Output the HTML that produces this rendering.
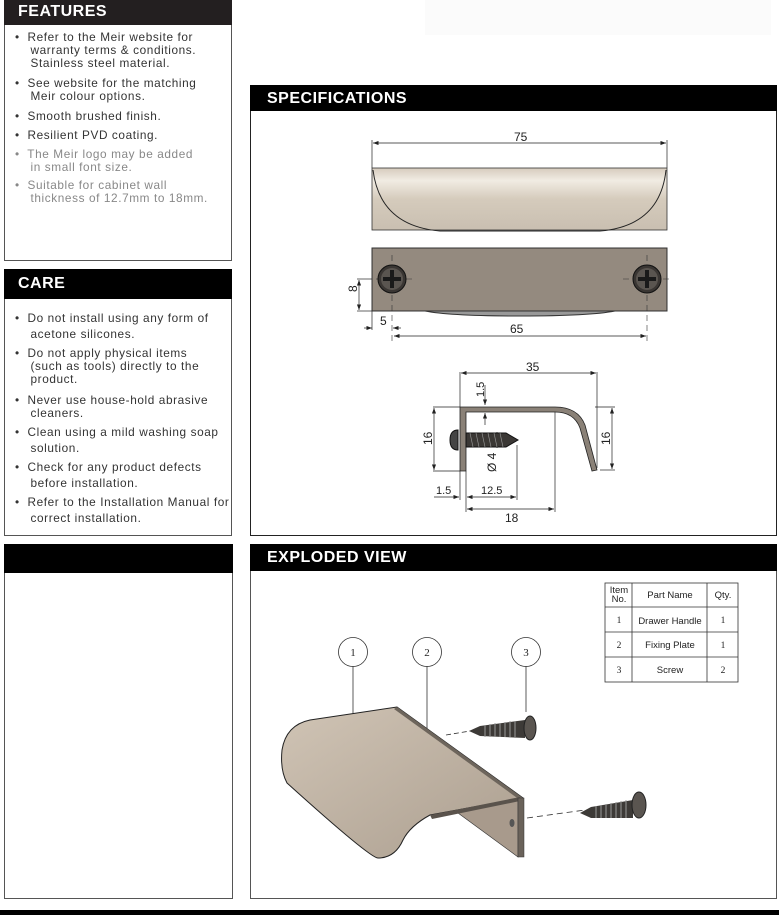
<!DOCTYPE html><html><head><style>
body{margin:0;width:779px;height:915px;position:relative;background:#fff;font-family:"Liberation Sans",sans-serif;overflow:hidden}
.a{position:absolute}
.box{position:absolute;border:1px solid #555;box-sizing:border-box;background:#fff}
.hd{position:absolute;background:#000;color:#fff;font-weight:bold;font-size:16px;letter-spacing:.5px;box-sizing:border-box;padding-left:14px}
.t{position:absolute;font-size:11.8px;letter-spacing:.6px;color:#333;white-space:nowrap;line-height:13px}
.g{color:#888}
</style></head><body>
<div class="a" style="left:425px;top:0;width:346px;height:35px;background:#fbfbfb"></div>

<div class="box" style="left:4px;top:0;width:228px;height:261px"></div>
<div class="hd" style="left:4px;top:0;width:228px;height:25px;background:#231f20;line-height:24px">FEATURES</div>
<div class="t" style="left:15px;top:31px">•&nbsp; Refer to the Meir website for<br>&nbsp;&nbsp;&nbsp; warranty terms &amp; conditions.<br>&nbsp;&nbsp;&nbsp; Stainless steel material.</div>
<div class="t" style="left:15px;top:77px">•&nbsp; See website for the matching<br>&nbsp;&nbsp;&nbsp; Meir colour options.</div>
<div class="t" style="left:15px;top:110px">•&nbsp; Smooth brushed finish.</div>
<div class="t" style="left:15px;top:129px">•&nbsp; Resilient PVD coating.</div>
<div class="t g" style="left:15px;top:148px">•&nbsp; The Meir logo may be added<br>&nbsp;&nbsp;&nbsp; in small font size.</div>
<div class="t g" style="left:15px;top:179px">•&nbsp; Suitable for cabinet wall<br>&nbsp;&nbsp;&nbsp; thickness of 12.7mm to 18mm.</div>

<div class="box" style="left:4px;top:269px;width:228px;height:267px"></div>
<div class="hd" style="left:4px;top:269px;width:228px;height:30px;line-height:30px">CARE</div>
<div class="t" style="left:15px;top:311px;line-height:15.5px">•&nbsp; Do not install using any form of<br>&nbsp;&nbsp;&nbsp; acetone silicones.</div>
<div class="t" style="left:15px;top:347px;line-height:13px">•&nbsp; Do not apply physical items<br>&nbsp;&nbsp;&nbsp; (such as tools) directly to the<br>&nbsp;&nbsp;&nbsp; product.</div>
<div class="t" style="left:15px;top:394px">•&nbsp; Never use house-hold abrasive<br>&nbsp;&nbsp;&nbsp; cleaners.</div>
<div class="t" style="left:15px;top:425px;line-height:15.5px">•&nbsp; Clean using a mild washing soap<br>&nbsp;&nbsp;&nbsp; solution.</div>
<div class="t" style="left:15px;top:460px;line-height:15.5px">•&nbsp; Check for any product defects<br>&nbsp;&nbsp;&nbsp; before installation.</div>
<div class="t" style="left:15px;top:495px;line-height:15.5px">•&nbsp; Refer to the Installation Manual for<br>&nbsp;&nbsp;&nbsp; correct installation.</div>

<div class="box" style="left:4px;top:544px;width:229px;height:355px"></div>
<div class="hd" style="left:4px;top:544px;width:229px;height:29px"></div>

<div class="box" style="left:250px;top:85px;width:527px;height:451px;border-color:#222"></div>
<div class="hd" style="left:250px;top:85px;width:527px;height:26px;line-height:27px;padding-left:17px">SPECIFICATIONS</div>
<div class="box" style="left:250px;top:544px;width:527px;height:355px"></div>
<div class="hd" style="left:250px;top:544px;width:527px;height:27px;line-height:28px;padding-left:17px">EXPLODED VIEW</div>

<div class="a" style="left:0;top:910px;width:779px;height:5px;background:#000"></div>

<svg class="a" style="left:0;top:0" width="779" height="915" font-family="Liberation Sans,sans-serif" font-size="11" fill="#222">
<defs>
<linearGradient id="h1" x1="0" y1="0" x2="0" y2="1"><stop offset="0" stop-color="#d6cbbd"/><stop offset=".2" stop-color="#f1ece3"/><stop offset=".5" stop-color="#d5cbbc"/><stop offset="1" stop-color="#c9bfb1"/></linearGradient>
<linearGradient id="h2" x1="0" y1="0" x2="1" y2="1"><stop offset="0" stop-color="#d0c4b5"/><stop offset="1" stop-color="#ab9e8f"/></linearGradient>
<marker id="ar" markerWidth="8" markerHeight="6" refX="8" refY="3" orient="auto-start-reverse"><path d="M0,0L8,3L0,6z" fill="#222"/></marker>
</defs>
<g stroke="#222" stroke-width=".7" fill="none">
<line x1="372" y1="140" x2="372" y2="168"/><line x1="667" y1="140" x2="667" y2="168"/>
<line x1="373" y1="143" x2="666" y2="143" marker-start="url(#ar)" marker-end="url(#ar)"/>
</g>
<text x="514" y="141" font-size="12">75</text>
<rect x="372" y="168" width="295" height="62" fill="url(#h1)" stroke="#333" stroke-width=".8"/>
<path d="M373,170 Q380,226 440,231 L600,231 Q660,226 666,170" fill="none" stroke="#222" stroke-width="1"/>
<path d="M425,311 Q450,316 520,316 Q590,316 615,311" fill="#999" stroke="#333"/>
<rect x="372" y="248" width="295" height="63" fill="#8c8378" stroke="#333"/>
<rect x="373" y="249" width="293" height="61" fill="#948a7f"/>
<g stroke="#333" stroke-width=".6" stroke-dasharray="6,4" fill="none">
<line x1="392" y1="255" x2="392" y2="345"/><line x1="647" y1="255" x2="647" y2="345"/>
<line x1="376" y1="279" x2="416" y2="279"/><line x1="623" y1="279" x2="671" y2="279"/></g>
<g><circle cx="392" cy="279" r="14" fill="#3a3633" stroke="#111"/><circle cx="392" cy="279" r="11" fill="#5a5550"/>
<path d="M383,279h18M392,270v18" stroke="#1a1a1a" stroke-width="4"/>
<circle cx="647" cy="279" r="14" fill="#3a3633" stroke="#111"/><circle cx="647" cy="279" r="11" fill="#5a5550"/>
<path d="M638,279h18M647,270v18" stroke="#1a1a1a" stroke-width="4"/></g>
<g stroke="#222" stroke-width=".7" fill="none">
<line x1="357" y1="279" x2="372" y2="279"/><line x1="357" y1="311" x2="372" y2="311"/>
<line x1="359" y1="280" x2="359" y2="310" marker-start="url(#ar)" marker-end="url(#ar)"/>
<line x1="364" y1="328" x2="372" y2="328" marker-end="url(#ar)"/><line x1="401" y1="328" x2="393" y2="328" marker-end="url(#ar)"/>
<line x1="372" y1="311" x2="372" y2="330"/>
<line x1="394" y1="336" x2="646" y2="336" marker-start="url(#ar)" marker-end="url(#ar)"/>
</g>
<text x="357" y="300" transform="rotate(-90 353 296)" font-size="12">8</text>
<text x="380" y="325" font-size="12">5</text>
<text x="510" y="333" font-size="12">65</text>
<g stroke="#222" stroke-width=".7" fill="none">
<line x1="460" y1="372" x2="460" y2="407"/><line x1="597" y1="372" x2="597" y2="468"/>
<line x1="461" y1="373" x2="596" y2="373" marker-start="url(#ar)" marker-end="url(#ar)"/>
<line x1="433" y1="407" x2="460" y2="407"/><line x1="433" y1="471" x2="460" y2="471"/>
<line x1="434" y1="408" x2="434" y2="470" marker-start="url(#ar)" marker-end="url(#ar)"/>
<line x1="595" y1="407" x2="615" y2="407"/><line x1="600" y1="470" x2="615" y2="470"/>
<line x1="612" y1="408" x2="612" y2="469" marker-start="url(#ar)" marker-end="url(#ar)"/>
<line x1="485" y1="385" x2="485" y2="405" marker-end="url(#ar)"/><line x1="485" y1="425" x2="485" y2="413" marker-end="url(#ar)"/>
<line x1="497" y1="432" x2="497" y2="448"/>
<line x1="460" y1="471" x2="460" y2="500"/><line x1="466" y1="471" x2="466" y2="512"/><line x1="517" y1="445" x2="517" y2="500"/><line x1="555" y1="412" x2="555" y2="512"/>
<line x1="434" y1="497" x2="459" y2="497" marker-end="url(#ar)"/>
<line x1="467" y1="497" x2="516" y2="497" marker-start="url(#ar)" marker-end="url(#ar)"/>
<line x1="467" y1="509" x2="554" y2="509" marker-start="url(#ar)" marker-end="url(#ar)"/>
</g>
<path d="M460,407 L555,407 Q578,407 585,425 L597,470 L592,471 L580,428 Q574,412 555,412 L466,412 L466,471 L460,471Z" fill="#8a8177" stroke="#222" stroke-width=".8"/>
<path d="M458,430 Q450,430 450,440 Q450,450 458,450Z" fill="#444" stroke="#111"/>
<path d="M466,433 L506,433 L518,440 L506,447 L466,447Z" fill="#3b3835" stroke="#111"/>
<path d="M470,433l3,14M476,433l3,14M482,433l3,14M488,433l3,14M494,433l3,14M500,433l3,14" stroke="#999" stroke-width=".6"/>
<text x="526" y="371" font-size="12">35</text>
<text x="0" y="0" font-size="11" transform="translate(484,397) rotate(-90)">1.5</text>
<text x="0" y="0" font-size="12" transform="translate(432,445) rotate(-90)">16</text>
<text x="0" y="0" font-size="12" transform="translate(610,445) rotate(-90)">16</text>
<text x="0" y="0" font-size="12" transform="translate(496,472) rotate(-90)">Ø 4</text>
<text x="436" y="494" font-size="11">1.5</text>
<text x="481" y="494" font-size="11">12.5</text>
<text x="505" y="522" font-size="12">18</text>
<g stroke="#333" fill="none" stroke-width=".8">
<rect x="605" y="583" width="133" height="99"/>
<line x1="605" y1="607" x2="738" y2="607"/><line x1="605" y1="632" x2="738" y2="632"/><line x1="605" y1="657" x2="738" y2="657"/>
<line x1="632" y1="583" x2="632" y2="682"/><line x1="707" y1="583" x2="707" y2="682"/>
<circle cx="353" cy="652" r="14.5"/><circle cx="427" cy="652" r="14.5"/><circle cx="526" cy="652" r="14.5"/>
<line x1="353" y1="666" x2="353" y2="720"/><line x1="427" y1="666" x2="427" y2="730"/><line x1="526" y1="666" x2="526" y2="712"/>
<line x1="446" y1="735" x2="470" y2="731" stroke-dasharray="5,3"/>
<line x1="527" y1="818" x2="585" y2="810" stroke-dasharray="6,4"/>
</g>
<g font-size="9.5" text-anchor="middle" fill="#222">
<text x="619" y="593">Item</text><text x="619" y="602">No.</text>
<text x="670" y="598">Part Name</text><text x="723" y="598">Qty.</text>
<text x="619" y="623" font-family="Liberation Serif">1</text><text x="670" y="624">Drawer Handle</text><text x="723" y="623" font-family="Liberation Serif">1</text>
<text x="619" y="648" font-family="Liberation Serif">2</text><text x="670" y="648">Fixing Plate</text><text x="723" y="648" font-family="Liberation Serif">1</text>
<text x="619" y="673" font-family="Liberation Serif">3</text><text x="670" y="673">Screw</text><text x="723" y="673" font-family="Liberation Serif">2</text>
<g font-family="Liberation Serif" font-size="11"><text x="353" y="656">1</text><text x="427" y="656">2</text><text x="526" y="656">3</text></g>
</g>
<path d="M458,813 L518,799 L518,857 Z" fill="#a89a8c" stroke="#333" stroke-width=".6"/>
<path d="M310,720 L397,707 L523,798 L430,815 Q410,826 403,840 Q395,858 378,858 Q370,858 287,783 Q280,770 282,750 Q286,725 310,720Z" fill="url(#h2)" stroke="#222" stroke-width="1"/>
<path d="M397,707 L523,798 L520,800 L394,709Z" fill="#6d655c"/>
<path d="M430,815 L520,797 L520,801 L432,819Z" fill="#5a534c"/>
<rect x="518" y="798" width="6" height="59" fill="#6a625a" stroke="#333" stroke-width=".5"/>
<ellipse cx="512" cy="823" rx="2.5" ry="4" fill="#555"/>
<g>
<path d="M469,731 L480,726 L525,720 L525,738 L480,736Z" fill="#3d3a37"/>
<path d="M485,725v12M490,724v13M495,723v14M500,723v14M505,722v15M510,721v16M515,721v16" stroke="#999" stroke-width="1"/>
<ellipse cx="530" cy="728" rx="6" ry="12" fill="#5a5550" stroke="#222"/>
<path d="M580,813 L591,807 L633,800 L633,818 L591,818Z" fill="#3d3a37"/>
<path d="M596,806v12M601,805v13M606,804v14M611,803v15M616,802v16M621,801v17M626,800v18" stroke="#999" stroke-width="1"/>
<ellipse cx="639" cy="805" rx="7" ry="13" fill="#5a5550" stroke="#222"/>
</g>
</svg>
</body></html>
